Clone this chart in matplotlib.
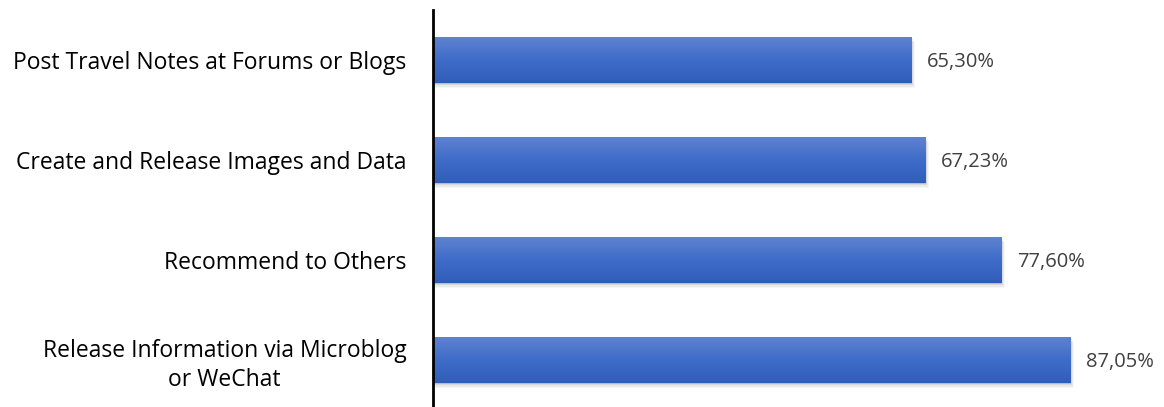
import numpy as np
import matplotlib.pyplot as plt
from matplotlib.patches import Rectangle
import matplotlib.colors as mcolors

plt.rcParams['font.family'] = ['Open Sans', 'DejaVu Sans']

categories = ["Post Travel Notes at Forums or Blogs",
              "Create and Release Images and Data",
              "Recommend to Others",
              "Release Information via Microblog\nor WeChat"]
values = [65.30, 67.23, 77.60, 87.05]
value_labels = ["65,30%", "67,23%", "77,60%", "87,05%"]

fig = plt.figure(figsize=(11.64, 4.07), dpi=100)
ax = fig.add_axes([433 / 1164, 0, 1 - 433 / 1164, 397 / 407])

grad = mcolors.LinearSegmentedColormap.from_list("bar", ["#5f82cf", "#3e6cc9", "#2f5db8"])
h = 0.46
for i, v in enumerate(values):
    # soft drop shadow under each bar
    for k, a in enumerate([0.12, 0.08, 0.05, 0.03]):
        ax.add_patch(Rectangle((0, i - h / 2 + 0.012 * (k + 1)), v + 0.12 * (k + 1), h,
                               color="black", alpha=a, lw=0, zorder=1))
    bar = Rectangle((0, i - h / 2), v, h, lw=0, facecolor="none", zorder=2)
    ax.add_patch(bar)
    im = ax.imshow(np.linspace(0, 1, 100).reshape(-1, 1), cmap=grad, aspect="auto",
                   extent=(0, v, i + h / 2, i - h / 2), zorder=2)
    im.set_clip_path(bar)
    ax.text(v + 2.1, i, value_labels[i], va="center_baseline", ha="left",
            fontsize=14.5, color="#404040")

ax.set_xlim(0, 99.8)
ax.set_ylim(3.47, -0.5)
ax.set_yticks(range(len(categories)))
ax.set_yticklabels(categories, fontsize=16.5, color="black",
                   multialignment="center", linespacing=1.3)
ax.tick_params(axis="y", length=0, pad=19)
ax.set_xticks([])
for s in ["top", "right", "bottom"]:
    ax.spines[s].set_visible(False)
ax.spines["left"].set_linewidth(2)

fig.savefig("out.png", dpi=100)
